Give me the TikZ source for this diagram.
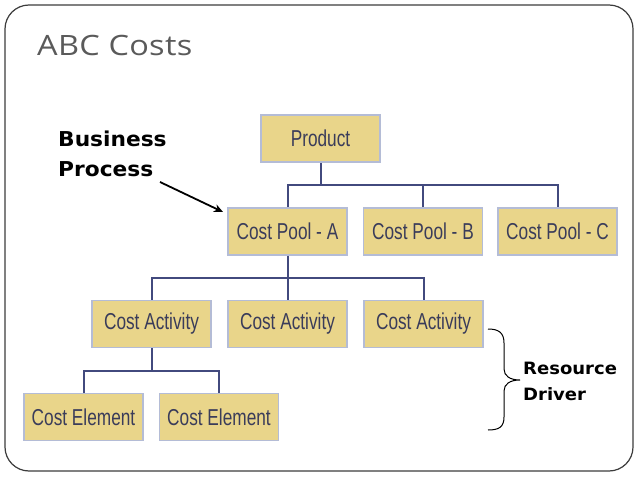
\documentclass[tikz,border=0pt]{standalone}
\usepackage{fontspec}
\setmainfont{Liberation Sans}
\newfontfamily\narrowfont[FakeStretch=0.75]{Liberation Sans}
\newfontfamily\titlefont[FakeStretch=1.16,LetterSpace=1]{Open Sans}
\newfontfamily\verdfont[FakeStretch=1.06]{DejaVu Sans}
\usetikzlibrary{arrows.meta}
\definecolor{boxfill}{RGB}{233,213,138}
\definecolor{boxline}{RGB}{180,188,214}
\definecolor{boxtext}{RGB}{58,60,90}
\definecolor{connline}{RGB}{66,74,126}
\definecolor{titlegray}{RGB}{90,90,90}
\definecolor{framegray}{RGB}{60,60,60}
\tikzset{
  costbox/.style={draw=boxline, line width=1.6pt, fill=boxfill, text=boxtext,
    minimum width=119pt, minimum height=47pt, inner sep=0pt,
    font=\narrowfont\fontsize{23}{26}\selectfont},
  conn/.style={draw=connline, line width=2pt},
  labeltext/.style={font=\verdfont\bfseries\fontsize{20.5}{30}\selectfont, align=left, inner sep=0pt, text=black},
  drivertext/.style={font=\verdfont\bfseries\fontsize{17}{26}\selectfont, align=left, inner sep=0pt, text=black}
}
\begin{document}
\begin{tikzpicture}[x=1pt,y=-1pt]
\useasboundingbox (0,0) rectangle (638,479);
\fill[white] (0,0) rectangle (638,479);
\draw[framegray, line width=1.2pt, rounded corners=24pt] (5,5) rectangle (633,471);
\node[anchor=base west, inner sep=0pt, text=titlegray, font=\titlefont\fontsize{28}{30}\selectfont] (title) at (37,56) {ABC Costs};

\node[costbox] (prod) at (320.5,138.5) {Product};
\node[costbox] (pA) at (287.5,231.5) {Cost Pool - A};
\node[costbox] (pB) at (423,231.5) {Cost Pool - B};
\node[costbox] (pC) at (557.5,231.5) {Cost Pool - C};
\node[costbox] (a1) at (151.5,324) {Cost Activity};
\node[costbox] (a2) at (287.5,324) {Cost Activity};
\node[costbox] (a3) at (423.5,324) {Cost Activity};
\node[costbox] (e1) at (83.5,417) {Cost Element};
\node[costbox] (e2) at (219,417) {Cost Element};

\coordinate (j1) at (320.5,185);
\coordinate (j2) at (287.5,278);
\coordinate (j3) at (151.5,371);
\draw[conn] (prod.south) -- (j1);
\draw[conn] (pA.north) |- (j1) -| (pC.north);
\draw[conn] (pB.north) -- (pB.north |- j1);
\draw[conn] (pA.south) -- (a2.north);
\draw[conn] (a1.north) |- (j2) -| (a3.north);
\draw[conn] (a1.south) -- (j3);
\draw[conn] (e1.north) |- (j3) -| (e2.north);

\node[labeltext, anchor=north west] (bp) at (58,131) {Business\\Process};
\coordinate (bpTail) at (160,182);
\coordinate (bpTip) at (223,212);
\draw[-{Stealth[length=9pt,width=8pt]}, line width=1.8pt] (bpTail) -- (bpTip);

\draw[line width=1pt] (488,329) .. controls (499,329) and (504,333) .. (504,343)
  -- (504,369) .. controls (504,376) and (510,380) .. (520,380)
  .. controls (510,380) and (504,384) .. (504,391)
  -- (504,417) .. controls (504,427) and (499,430) .. (488,430);
\node[drivertext, anchor=north west] (rd) at (523,362) {Resource\\Driver};
\end{tikzpicture}
\end{document}
